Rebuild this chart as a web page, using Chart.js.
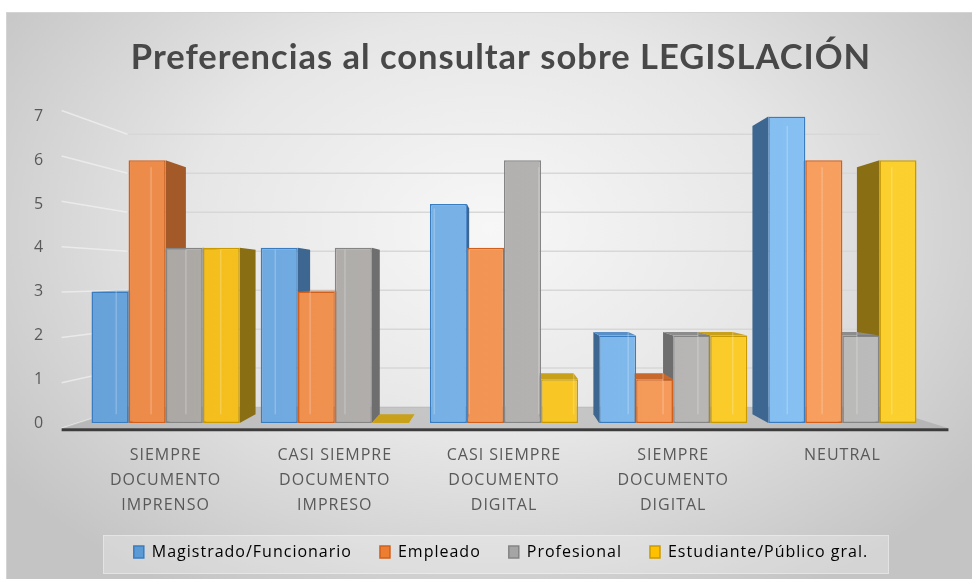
<!DOCTYPE html>
<html lang="es">
<head>
<meta charset="utf-8">
<title>Preferencias al consultar sobre LEGISLACIÓN</title>
<script src="https://cdn.jsdelivr.net/npm/chart.js@4.4.1/dist/chart.umd.min.js"></script>
<style>
  html, body { margin: 0; padding: 0; background: #fff; }
  body { width: 972px; height: 579px; position: relative; overflow: hidden; }
  .tarjeta {
    position: absolute; left: 6px; top: 12px; right: 0; bottom: 0;
    background: radial-gradient(ellipse 62% 75% at 50% 38%, #f7f7f7 0%, #e6e6e6 50%, #c4c4c4 100%);
    border-left: 1px solid #d4d4d4; border-top: 1px solid #d4d4d4;
  }
  .caja-leyenda {
    position: absolute; left: 103px; top: 535px; width: 784px; height: 37px;
    background: rgba(255,255,255,0.28); border: 1px solid rgba(255,255,255,0.35);
  }
  canvas { position: absolute; left: 0; top: 0; }
</style>
</head>
<body>
<div class="tarjeta"></div>
<div class="caja-leyenda"></div>
<canvas id="grafico" width="972" height="579"></canvas>
<script>
// ─── Datos ───────────────────────────────────────────────────────
const categorias = [
  ['SIEMPRE', 'DOCUMENTO', 'IMPRENSO'],
  ['CASI SIEMPRE', 'DOCUMENTO', 'IMPRESO'],
  ['CASI SIEMPRE', 'DOCUMENTO', 'DIGITAL'],
  ['SIEMPRE', 'DOCUMENTO', 'DIGITAL'],
  ['NEUTRAL']
];
const series      = ['Magistrado/Funcionario', 'Empleado', 'Profesional', 'Estudiante/Público gral.'];
const magistrado  = [3, 4, 5, 2, 7];
const empleado    = [6, 3, 4, 1, 6];
const profesional = [4, 4, 6, 2, 2];
const estudiante  = [4, 0, 1, 2, 6];
const ejeY        = [0, 7, 1]; // mínimo, máximo, paso

// ─── Estilo de cada serie (colores tipo Office) ──────────────────
const estilos = [
  { plano: '#5b9bd5', frente: ['#66a1d9', '#8cc5f6'], borde: '#3a7cc0', lado: '#3d6690', tapa: '#5a90c8' },
  { plano: '#ed7d31', frente: ['#ec8a48', '#f9a262'], borde: '#d0601c', lado: '#a35a28', tapa: '#c9682c' },
  { plano: '#a5a5a5', frente: ['#aaa6a2', '#bcbcbc'], borde: '#858585', lado: '#6e6e6e', tapa: '#8c8c8c' },
  { plano: '#ffc000', frente: ['#f3bb1a', '#fcd02e'], borde: '#c99a00', lado: '#8a6e14', tapa: '#c9a01a' }
];

// Profundidad simulada (factores de escala hacia el punto de fuga)
const FONDO_BARRA = 0.94;
const PARED      = 0.89;
const FRENTE     = 1.036;

function relleno(i) {
  return (ctx) => {
    const est = estilos[i];
    const area = ctx.chart.chartArea;
    if (ctx.type !== 'data' || !area) return est.plano;
    const clave = area.left + ':' + area.right;
    if (est._clave !== clave) {
      const g = ctx.chart.ctx.createLinearGradient(area.left, 0, area.right, 0);
      g.addColorStop(0, est.frente[0]);
      g.addColorStop(1, est.frente[1]);
      est._g = g; est._clave = clave;
    }
    return est._g;
  };
}

function fuga(chart) {
  const a = chart.chartArea;
  return { x: (a.left + a.right) / 2, y: chart.scales.y.getPixelForValue(3.3) };
}
function proyectar(v, x, y, s) {
  return [v.x + (x - v.x) * s, v.y + (y - v.y) * s];
}
function poligono(ctx, pts, color) {
  ctx.beginPath();
  ctx.moveTo(pts[0][0], pts[0][1]);
  for (let k = 1; k < pts.length; k++) ctx.lineTo(pts[k][0], pts[k][1]);
  ctx.closePath();
  ctx.fillStyle = color;
  ctx.fill();
}

// Caras laterales, tapas, paredes y piso
const perspectiva = {
  id: 'perspectiva',
  beforeUpdate(chart) {
    chart.ctx.letterSpacing = '1px';
  },
  beforeDatasetsDraw(chart) {
    const { ctx, chartArea: a, scales: { y } } = chart;
    const v = fuga(chart);
    ctx.save();

    // líneas de la pared del fondo y pared izquierda
    for (let t = ejeY[0]; t <= ejeY[1]; t += ejeY[2]) {
      const py = y.getPixelForValue(t);
      const i0 = proyectar(v, a.left, py, PARED);
      const d0 = proyectar(v, a.right, py, PARED);
      const f0 = proyectar(v, a.left - 4, py, FRENTE);
      ctx.lineWidth = 1.5;
      ctx.strokeStyle = '#d7d7d7';
      ctx.beginPath(); ctx.moveTo(i0[0], i0[1]); ctx.lineTo(d0[0], d0[1]); ctx.stroke();
      ctx.strokeStyle = 'rgba(240,240,240,0.75)';
      ctx.beginPath(); ctx.moveTo(f0[0], f0[1]); ctx.lineTo(i0[0], i0[1]); ctx.stroke();
    }

    // piso
    const base = y.getPixelForValue(0);
    poligono(ctx, [
      proyectar(v, a.left - 4, base, FRENTE),
      proyectar(v, a.right + 6, base, FRENTE),
      proyectar(v, a.right, base, PARED),
      proyectar(v, a.left, base, PARED)
    ], 'rgba(150,150,150,0.42)');

    const barras = [];
    chart.data.datasets.forEach((ds, i) => {
      chart.getDatasetMeta(i).data.forEach(el => {
        const p = el.getProps(['x', 'y', 'base', 'width'], true);
        barras.push({ i, xl: p.x - p.width / 2, xr: p.x + p.width / 2, yt: p.y, yb: p.base, xc: p.x });
      });
    });

    // caras laterales visibles (las que miran al punto de fuga)
    barras.forEach(b => {
      const est = estilos[b.i];
      const xe = b.xc < v.x ? b.xr : b.xl;
      if (Math.abs(b.xc - v.x) < 4) return;
      poligono(ctx, [
        [xe, b.yt], proyectar(v, xe, b.yt, FONDO_BARRA),
        proyectar(v, xe, b.yb, FONDO_BARRA), [xe, b.yb]
      ], est.lado);
    });

    // tapas superiores (solo si están por debajo de la línea del ojo)
    barras.forEach(b => {
      if (b.yt <= v.y) return;
      const est = estilos[b.i];
      poligono(ctx, [
        [b.xl, b.yt], [b.xr, b.yt],
        proyectar(v, b.xr, b.yt, FONDO_BARRA), proyectar(v, b.xl, b.yt, FONDO_BARRA)
      ], est.tapa);
    });
    ctx.restore();
    chart._barras = barras;
  },
  afterDatasetsDraw(chart) {
    const { ctx, chartArea: a, scales: { y } } = chart;
    const v = fuga(chart);
    ctx.save();
    // aristas traseras vistas a través de la cara frontal
    (chart._barras || []).forEach(b => {
      if (b.yb - b.yt < 2) return;
      const xe = b.xc < v.x ? b.xl : b.xr;
      const t = proyectar(v, xe, b.yt, FONDO_BARRA);
      const d = proyectar(v, xe, b.yb, FONDO_BARRA);
      ctx.strokeStyle = 'rgba(255,255,255,0.22)';
      ctx.lineWidth = 1.5;
      ctx.beginPath(); ctx.moveTo(t[0], t[1]); ctx.lineTo(d[0], d[1]); ctx.stroke();
    });
    // borde frontal del piso
    const base = y.getPixelForValue(0);
    const f1 = proyectar(v, a.left - 4, base, FRENTE);
    const f2 = proyectar(v, a.right + 6, base, FRENTE);
    ctx.strokeStyle = '#3c3c3c';
    ctx.lineWidth = 3;
    ctx.beginPath(); ctx.moveTo(f1[0], f1[1] + 1.5); ctx.lineTo(f2[0], f2[1] + 1.5); ctx.stroke();
    ctx.restore();
  }
};

const valores = [magistrado, empleado, profesional, estudiante];

new Chart(document.getElementById('grafico'), {
  type: 'bar',
  data: {
    labels: categorias,
    datasets: valores.map((d, i) => ({
      label: series[i],
      data: d,
      backgroundColor: relleno(i),
      borderColor: estilos[i].borde,
      borderWidth: 1.5,
      borderSkipped: false,
      categoryPercentage: 0.876,
      barPercentage: 1.0
    }))
  },
  options: {
    responsive: false,
    animation: false,
    layout: { padding: { left: 75, right: 45, top: 0, bottom: 9 } },
    plugins: {
      title: {
        display: true,
        text: 'Preferencias al consultar sobre LEGISLACIÓN',
        color: '#484848',
        font: { family: 'Lato', size: 34.5, weight: 'bold' },
        padding: { top: 37, bottom: 38 }
      },
      legend: {
        position: 'bottom',
        labels: {
          color: '#595959',
          font: { family: 'Open Sans', size: 16 },
          boxWidth: 10,
          boxHeight: 12,
          padding: 28,
          generateLabels(chart) {
            return series.map((s, i) => ({
              text: s,
              fillStyle: estilos[i].plano,
              strokeStyle: estilos[i].borde,
              lineWidth: 1.5,
              datasetIndex: i
            }));
          }
        }
      },
      tooltip: { enabled: false }
    },
    scales: {
      x: {
        grid: { display: false, drawTicks: false },
        border: { display: false },
        ticks: {
          color: '#595959',
          padding: 20,
          maxRotation: 0,
          autoSkip: false,
          font: { family: 'Open Sans', size: 16, lineHeight: 1.56 }
        },
        afterFit(scale) { scale.height = 93; }
      },
      y: {
        min: ejeY[0],
        max: ejeY[1],
        grid: { display: false, drawTicks: false },
        border: { display: false },
        ticks: {
          stepSize: ejeY[2],
          color: '#595959',
          mirror: true,
          padding: -47,
          font: { family: 'Open Sans', size: 16 }
        },
        afterFit(scale) { scale.width = 6; }
      }
    }
  },
  plugins: [perspectiva]
});
</script>
</body>
</html>
